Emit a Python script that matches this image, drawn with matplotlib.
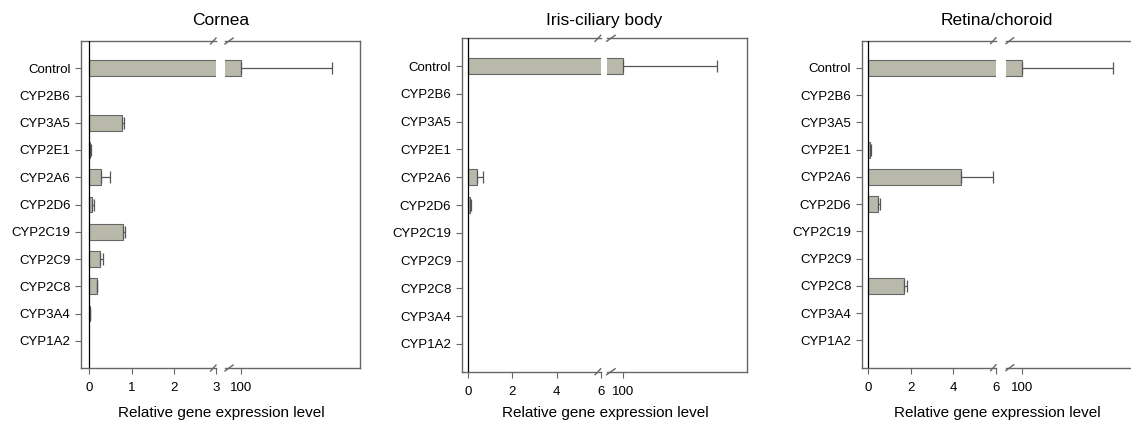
import numpy as np
import matplotlib.pyplot as plt

plt.rcParams['font.family'] = ['Liberation Sans', 'DejaVu Sans']

# Data
genes = ['Control', 'CYP2B6', 'CYP3A5', 'CYP2E1', 'CYP2A6', 'CYP2D6',
         'CYP2C19', 'CYP2C9', 'CYP2C8', 'CYP3A4', 'CYP1A2']
titles = ['Cornea', 'Iris-ciliary body', 'Retina/choroid']

cornea_val = [100, 0, 0.78, 0.02, 0.28, 0.07, 0.79, 0.24, 0.17, 0.01, 0]
cornea_err = [57, 0, 0.05, 0.01, 0.20, 0.03, 0.05, 0.08, 0.02, 0.005, 0]
iris_val = [100, 0, 0, 0, 0.40, 0.08, 0, 0, 0, 0, 0]
iris_err = [59, 0, 0, 0, 0.25, 0.06, 0, 0, 0, 0, 0]
retina_val = [100, 0, 0, 0.10, 4.35, 0.44, 0, 0, 1.68, 0, 0]
retina_err = [58, 0, 0, 0.03, 1.52, 0.11, 0, 0, 0.12, 0, 0]

values = [cornea_val, iris_val, retina_val]
errors = [cornea_err, iris_err, retina_err]
low_ticks = [[0, 1, 2, 3], [0, 2, 4, 6], [0, 2, 4, 6]]
low_lims = [(-0.2, 3), (-0.3, 6), (-0.31, 6)]
high_lims = [(90, 174.4), (90, 177.5), (90, 170.5)]

# layout in pixels: left, break start, break end, right, top, bottom
W, H = 1131, 424
boxes = [(81, 216, 225, 360, 41, 368),
         (461.7, 600.7, 606.7, 746.7, 38.3, 371.7),
         (861.7, 996, 1006, 1133, 40.7, 367.7)]

bar_color = '#b9b9ab'
edge_color = '#666666'
spine_color = '#666666'

fig = plt.figure(figsize=(W / 100, H / 100), dpi=100)


def px_axes(x0, x1, top, bottom):
    return fig.add_axes([x0 / W, 1 - bottom / H, (x1 - x0) / W, (bottom - top) / H])


y = np.arange(len(genes))
for i in range(3):
    l, b0, b1, r, top, bot = boxes[i]
    axL = px_axes(l, b0, top, bot)
    axR = px_axes(b1, r, top, bot)
    vals = np.array(values[i])
    errs = np.array(errors[i])
    nz = vals > 0
    for ax in (axL, axR):
        ax.barh(y[nz], vals[nz], height=0.58, color=bar_color,
                edgecolor=edge_color, linewidth=0.8, zorder=2)
        ax.errorbar(vals[nz], y[nz], xerr=[np.zeros(nz.sum()), errs[nz]],
                    fmt='none', ecolor='#555555', elinewidth=0.9, capsize=4,
                    capthick=0.9, zorder=3)
        ax.set_ylim(len(genes), -1)
        for s in ax.spines.values():
            s.set_color(spine_color)
            s.set_linewidth(1.0)
        ax.tick_params(axis='both', direction='out', length=4, width=0.8,
                       color=spine_color, labelsize=9.5)
        ax.tick_params(axis='x', pad=6)

    axL.set_xlim(*low_lims[i])
    axL.set_xticks(low_ticks[i])
    axL.set_yticks(y)
    axL.set_yticklabels(genes)
    axL.spines['right'].set_visible(False)
    axL.axvline(0, color='black', lw=0.9, zorder=4)

    axR.set_xlim(*high_lims[i])
    axR.set_xticks([100])
    axR.set_yticks([])
    axR.spines['left'].set_visible(False)

    # break marks
    d = 0.03
    for ax, xs in ((axL, (1 - 0.04, 1)), (axR, (0, 0.06))):
        for yy in (0, 1):
            ax.plot(xs, (yy - d * 0.3, yy + d * 0.3), transform=ax.transAxes,
                    color=spine_color, lw=1.0, clip_on=False)

    cx = (l + min(r, W)) / 2
    fig.text(cx / W, 1 - 20.5 / H, titles[i], ha='center', va='center',
             fontsize=12.5)
    fig.text((cx + 1) / W, 1 - 413 / H, 'Relative gene expression level',
             ha='center', va='center', fontsize=11)

fig.savefig('out.png', dpi=100)
